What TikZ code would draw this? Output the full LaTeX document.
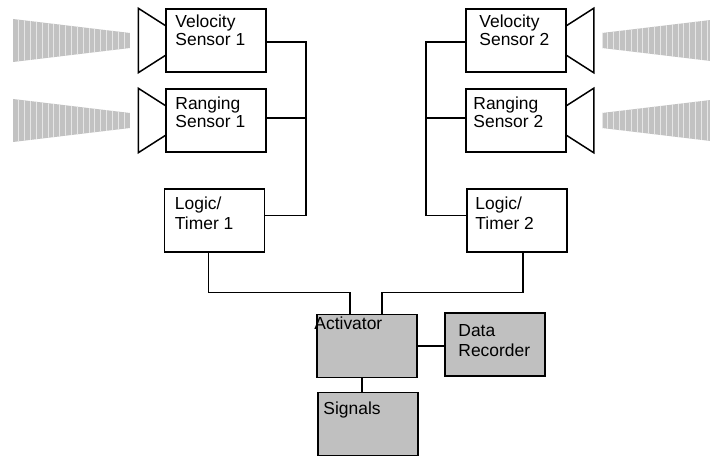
\documentclass[tikz,border=0pt]{standalone}
\usepackage{fontspec}
\setmainfont{Liberation Sans}
\usetikzlibrary{calc}
\definecolor{boxgray}{HTML}{C0C0C0}
\definecolor{beamgray}{HTML}{C2C2C2}
\definecolor{stripe}{HTML}{E6E6E6}
\newcommand\hornL[1]{\draw[wire] ($(#1.west)+(0,-15)$) -- ($(#1.north west)+(-27,0)$) -- ($(#1.south west)+(-27,0)$) -- ($(#1.west)+(0,15)$);}
\newcommand\hornR[1]{\draw[wire] ($(#1.east)+(0,-15)$) -- ($(#1.north east)+(27,0)$) -- ($(#1.south east)+(27,0)$) -- ($(#1.east)+(0,15)$);}
\newcommand\beam[3]{%
  \begin{scope}
    \clip (#1,#3-21.5) -- (#2,#3-7.5) -- (#2,#3+7.5) -- (#1,#3+21.5) -- cycle;
    \fill[beamgray] (#1,#3-22) rectangle (#2,#3+22);
    \foreach \i in {1,...,20}
      \draw[stripe, line width=1bp] ({#1+(#2-#1)*\i/20},#3-22) -- ++(0,44);
  \end{scope}}

\begin{document}
\begin{tikzpicture}[x=1bp,y=-1bp,
  box/.style={draw, line width=1.5bp, minimum width=100bp, minimum height=63bp, inner sep=0},
  gbox/.style={box, fill=boxgray},
  txt/.style={anchor=north west, inner sep=0, align=left, font=\fontsize{17.5}{18}\selectfont},
  wide/.style={font=\fontsize{17.5}{20}\selectfont},
  wire/.style={line width=1.5bp}]
\clip (0,0) rectangle (710,456);

\node[box] (vs1) at (216,40.5) {};
\node[box] (rs1) at (216,120.5) {};
\node[box] (lt1) at (214.5,220.5) {};
\node[box] (vs2) at (516,40.5) {};
\node[box] (rs2) at (516,120.5) {};
\node[box] (lt2) at (517,220.5) {};
\node[gbox] (act) at (367,346) {};
\node[gbox] (dr) at (495,344.5) {};
\node[gbox] (sig) at (368,424) {};

\node[txt] (vs1t) at ($(vs1.north west)+(10,6)$) {Velocity\\Sensor 1};
\node[txt] (rs1t) at ($(rs1.north west)+(10,8)$) {Ranging\\Sensor 1};
\node[txt,wide] (lt1t) at ($(lt1.north west)+(11,8)$) {Logic/\\Timer 1};
\node[txt] (vs2t) at ($(vs2.north west)+(14,6)$) {Velocity\\Sensor 2};
\node[txt] (rs2t) at ($(rs2.north west)+(8,8)$) {Ranging\\Sensor 2};
\node[txt,wide] (lt2t) at ($(lt2.north west)+(9,8)$) {Logic/\\Timer 2};
\node[txt] (actt) at ($(act.north west)+(-2,3)$) {Activator};
\node[txt,wide] (drt) at ($(dr.north west)+(14,12)$) {Data\\Recorder};
\node[txt] (sigt) at ($(sig.north west)+(6,10)$) {Signals};

\hornL{vs1} \hornL{rs1} \hornR{vs2} \hornR{rs2}
\beam{13}{130}{40.5} \beam{13}{130}{120.5}
\beam{719}{602}{40.5} \beam{719}{602}{120.5}

\coordinate (busL) at (306,0);
\coordinate (busR) at (426,0);
\coordinate (lt1e) at ($(lt1.east)+(0,-5)$);
\coordinate (lt2w) at ($(lt2.west)+(0,-5)$);
\draw[wire] ([yshift=-1.5bp]vs1.east) -| (busL |- lt1e) -- (lt1e);
\draw[wire] ([yshift=2.5bp]rs1.east) -- ([yshift=2.5bp]rs1.east -| busL);
\draw[wire] ([yshift=-1.5bp]vs2.west) -| (busR |- lt2w) -- (lt2w);
\draw[wire] ([yshift=2.5bp]rs2.west) -- ([yshift=2.5bp]rs2.west -| busR);

\draw[wire] ([xshift=-6bp]lt1.south) -- ++(0,40) -| ([xshift=-17bp]act.north);
\draw[wire] ([xshift=6bp]lt2.south) -- ++(0,40) -| ([xshift=15bp]act.north);
\draw[wire] (act.east) -- (act.east -| dr.west);
\draw[wire] ([xshift=-5bp]act.south) -- ([xshift=-5bp]act.south |- sig.north);
\end{tikzpicture}
\end{document}
